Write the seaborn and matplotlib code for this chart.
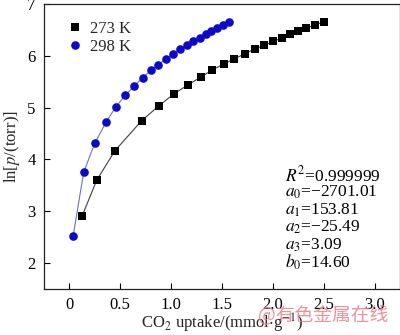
import numpy as np
import pandas as pd
import matplotlib
matplotlib.use("Agg")
import matplotlib.pyplot as plt
import seaborn as sns
from matplotlib.lines import Line2D

# CO2 uptake (mmol/g) and ln(p/torr) at two temperatures
uptake_273 = [0.125, 0.268, 0.448, 0.711, 0.876, 1.024, 1.165, 1.292, 1.406, 1.516,
              1.621, 1.724, 1.820, 1.915, 2.000, 2.087, 2.170, 2.250, 2.330, 2.410, 2.500]
lnp_273 = [2.91, 3.60, 4.17, 4.75, 5.03, 5.26, 5.44, 5.59, 5.73, 5.84,
           5.94, 6.04, 6.13, 6.20, 6.28, 6.34, 6.42, 6.48, 6.54, 6.59, 6.66]

uptake_298 = [0.036, 0.140, 0.248, 0.360, 0.454, 0.550, 0.638, 0.723, 0.800, 0.873,
              0.949, 1.020, 1.090, 1.155, 1.217, 1.279, 1.338, 1.394, 1.452, 1.511, 1.570]
lnp_298 = [2.52, 3.75, 4.31, 4.72, 5.01, 5.24, 5.42, 5.58, 5.72, 5.83,
           5.94, 6.04, 6.13, 6.21, 6.28, 6.35, 6.42, 6.47, 6.53, 6.59, 6.66]

series_labels = ["273 K", "298 K"]
fit_labels = [r"$R^2$=0.999999", r"$a_0$=−2701.01", r"$a_1$=153.81",
              r"$a_2$=−25.49", r"$a_3$=3.09", r"$b_0$=14.60"]
x_ticks = [0, 0.5, 1.0, 1.5, 2.0, 2.5, 3.0]
y_ticks = [2, 3, 4, 5, 6, 7]

df = pd.concat([
    pd.DataFrame({"uptake": uptake_273, "lnp": lnp_273, "T": series_labels[0]}),
    pd.DataFrame({"uptake": uptake_298, "lnp": lnp_298, "T": series_labels[1]}),
], ignore_index=True)

sns.set_theme(style="ticks")
plt.rcParams["font.family"] = ["Liberation Serif", "DejaVu Serif"]
plt.rcParams["mathtext.fontset"] = "stix"

fig = plt.figure(figsize=(4.0, 3.35), dpi=100)
ax = fig.add_axes([44 / 400, 46 / 335, 356 / 400, 285 / 335])

colors = {"273 K": "#000000", "298 K": "#0a0ac8"}
line_colors = {"273 K": "#404040", "298 K": "#7070c0"}
markers = {"273 K": "s", "298 K": "o"}
sizes = {"273 K": 5.2, "298 K": 6.2}

for lab in series_labels:
    sub = df[df["T"] == lab]
    sns.lineplot(data=sub, x="uptake", y="lnp", ax=ax, sort=False,
                 color=line_colors[lab], linewidth=0.8, legend=False, zorder=2)
    ax.plot(sub["uptake"], sub["lnp"], linestyle="none", marker=markers[lab],
            markersize=sizes[lab], color=colors[lab], markeredgewidth=0, zorder=3)

ax.set_xlim(-0.25, 3.25)
ax.set_ylim(1.5, 7.0)
ax.set_xticks(x_ticks)
ax.set_xticklabels(["0", "0.5", "1.0", "1.5", "2.0", "2.5", "3.0"])
ax.set_yticks(y_ticks)
ax.tick_params(direction="in", length=4, width=0.8, labelsize=12, color="black",
               labelcolor="black", pad=6)
for s in ax.spines.values():
    s.set_linewidth(0.9)
    s.set_color("#222222")

ax.set_xlabel(r"CO$_2$ uptake/(mmol$\cdot$g$^{-1}$)", fontsize=12, labelpad=-1)
ax.set_ylabel(r"ln[$p$/(torr)]", fontsize=12, labelpad=4)

handles = [Line2D([], [], linestyle="none", marker=markers[l], color=colors[l],
                  markersize=sizes[l], markeredgewidth=0) for l in series_labels]
ax.legend(handles, series_labels, loc="upper left", bbox_to_anchor=(0.04, 0.975),
          frameon=False, fontsize=12, handlelength=0.8, handletextpad=0.5,
          labelspacing=0.1, borderaxespad=0.2)

y0 = 0.40
for i, t in enumerate(fit_labels):
    ax.text(0.676, y0 - i * 0.0615, t, transform=ax.transAxes, fontsize=12.5,
            va="center", ha="left", color="black")

fig.text(0.645, 0.058, "@有色金属在线", fontsize=13.5, color="#e8808c", alpha=0.85,
         family=["Noto Sans CJK SC", "DejaVu Sans"], va="center", ha="left")

fig.savefig("out.png", dpi=100)
